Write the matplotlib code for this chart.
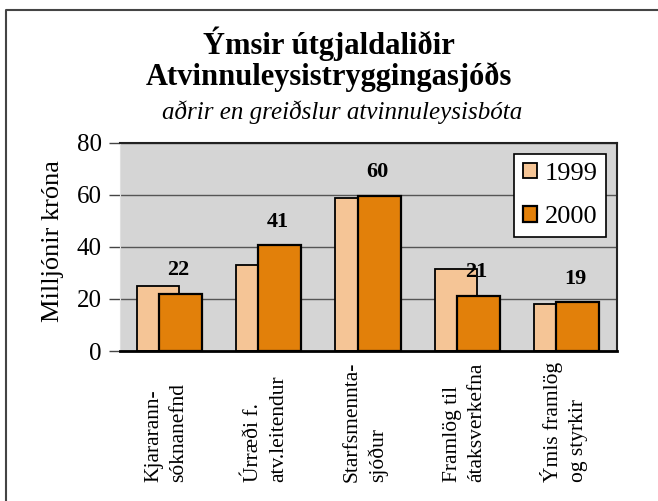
import matplotlib.pyplot as plt
from matplotlib.lines import Line2D
import numpy as np

plt.rcParams['font.family'] = ['Liberation Serif', 'DejaVu Serif']

categories = ["Kjararann-\nsóknanefnd", "Úrræði f.\natv.leitendur", "Starfsmennta-\nsjóður",
              "Framlög til\nátaksverkefna", "Ýmis framlög\nog styrkir"]
v1999 = [25.1, 32.9, 58.6, 31.4, 18.0]
v2000 = [21.9, 40.6, 59.6, 21.1, 18.7]
labels2000 = ["22", "41", "60", "21", "19"]

fig = plt.figure(figsize=(6.58, 5.01), dpi=100)
ax = fig.add_axes([120 / 658, 1 - 351 / 501, 496.7 / 658, 208.3 / 501])
ax.set_facecolor('#d5d5d5')

x = np.arange(len(categories))
w = 0.43
ax.bar(x - 0.117, v1999, w, color='#f5c596', edgecolor='black', linewidth=1.3, label='1999', zorder=2)
ax.bar(x + 0.109, v2000, w, color='#e2800a', edgecolor='black', linewidth=1.6, label='2000', zorder=3)

for xi, v, t in zip(x, v2000, labels2000):
    ax.annotate(t, (xi + 0.087, v), xytext=(0, 17), textcoords='offset points',
                ha='center', va='center', fontsize=16, fontweight='bold', zorder=4)

ax.set_xlim(-0.5, 4.5)
ax.set_ylim(0, 80)
ax.set_yticks([0, 20, 40, 60, 80])
ax.tick_params(axis='y', labelsize=18, length=8, width=1, color='#444444', pad=5)
ax.tick_params(axis='x', length=0, labelbottom=False)
ax.yaxis.grid(True, color='#555555', linewidth=1)
ax.set_axisbelow(True)
for s in ['top', 'right']:
    ax.spines[s].set_color('#222222')
    ax.spines[s].set_linewidth(1.5)
ax.spines['left'].set_color('#e0e0e0')
ax.spines['bottom'].set_linewidth(2)

for xi, c in zip(x, categories):
    ax.text(xi - 0.03, -0.63, c, transform=ax.get_xaxis_transform(), rotation=90,
            ha='center', va='bottom', multialignment='left', fontsize=15.5, linespacing=1.4)

ax.set_ylabel("Milljónir króna", fontsize=19)
ax.yaxis.set_label_coords(-0.113, 0.526)

leg = ax.legend(loc='upper right', bbox_to_anchor=(606 / 658, 1 - 154.3 / 501),
                bbox_transform=fig.transFigure, fontsize=19, frameon=True, fancybox=False,
                edgecolor='black', framealpha=1, borderaxespad=0, handlelength=0.53,
                handleheight=0.53, handletextpad=0.3, labelspacing=0.8, borderpad=0.32)
leg.get_frame().set_linewidth(1.2)

fig.text(0.5, 1 - 44 / 501, "Ýmsir útgjaldaliðir", ha='center', va='center', fontsize=22, fontweight='bold')
fig.text(0.5, 1 - 77 / 501, "Atvinnuleysistryggingasjóðs", ha='center', va='center', fontsize=22, fontweight='bold')
fig.text(0.52, 1 - 112 / 501, "aðrir en greiðslur atvinnuleysisbóta", ha='center', va='center', fontsize=18, style='italic')

fig.add_artist(Line2D([6 / 658, 6 / 658, 1], [0, 1 - 9.5 / 501, 1 - 9.5 / 501],
                      transform=fig.transFigure, color='#444444', linewidth=1.5))

fig.savefig("out.png", dpi=100)
